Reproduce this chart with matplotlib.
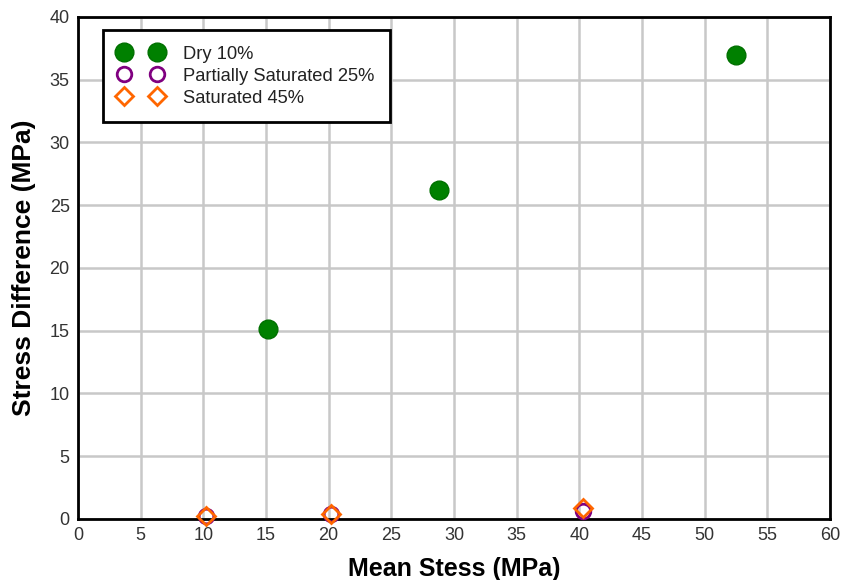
import matplotlib.pyplot as plt

plt.rcParams['font.family'] = ['Liberation Sans', 'DejaVu Sans']

# Data
dry_x = [15.2, 28.8, 52.5]
dry_y = [15.1, 26.2, 37.0]
partial_x = [10.2, 20.2, 40.3]
partial_y = [0.2, 0.4, 0.6]
sat_x = [10.2, 20.2, 40.3]
sat_y = [0.2, 0.4, 0.9]

x_ticks = list(range(0, 61, 5))
y_ticks = list(range(0, 41, 5))

fig = plt.figure(figsize=(8.41, 5.80), dpi=100)
ax = fig.add_axes([0.0927, 0.1052, 0.8943, 0.8655])

ax.plot(dry_x, dry_y, linestyle='none', marker='o', markersize=13.5,
        color='#008000', markeredgecolor='#007000', label='Dry 10%', clip_on=False, zorder=3)
ax.plot(partial_x, partial_y, linestyle='none', marker='o', markersize=10.5,
        markerfacecolor='none', markeredgecolor='#800080', markeredgewidth=2,
        label='Partially Saturated 25%', clip_on=False, zorder=4)
ax.plot(sat_x, sat_y, linestyle='none', marker='D', markersize=9.5,
        markerfacecolor='none', markeredgecolor='#ff6600', markeredgewidth=2,
        label='Saturated 45%', clip_on=False, zorder=5)

ax.set_xlim(0, 60)
ax.set_ylim(0, 40)
ax.set_xticks(x_ticks)
ax.set_yticks(y_ticks)
ax.tick_params(length=0, labelsize=13, labelcolor='#333333', pad=6)
ax.grid(True, color='#c8c8c8', linewidth=1.8)
ax.set_axisbelow(True)
for s in ax.spines.values():
    s.set_linewidth(2)
    s.set_color('black')

ax.set_xlabel('Mean Stess (MPa)', fontsize=18, fontweight='bold', labelpad=9)
ax.set_ylabel('Stress Difference (MPa)', fontsize=19, fontweight='bold', labelpad=10)

leg = ax.legend(loc='upper left', bbox_to_anchor=(0.0332, 0.974), numpoints=2,
                fontsize=13.2, frameon=True, fancybox=False, framealpha=1,
                borderaxespad=0, borderpad=0.85, handletextpad=1.1,
                labelspacing=0.27, handlelength=2.4)
leg.get_frame().set_edgecolor('black')
leg.get_frame().set_linewidth(2)
for t in leg.get_texts():
    t.set_color('#222222')

fig.savefig('out.png', dpi=100)
